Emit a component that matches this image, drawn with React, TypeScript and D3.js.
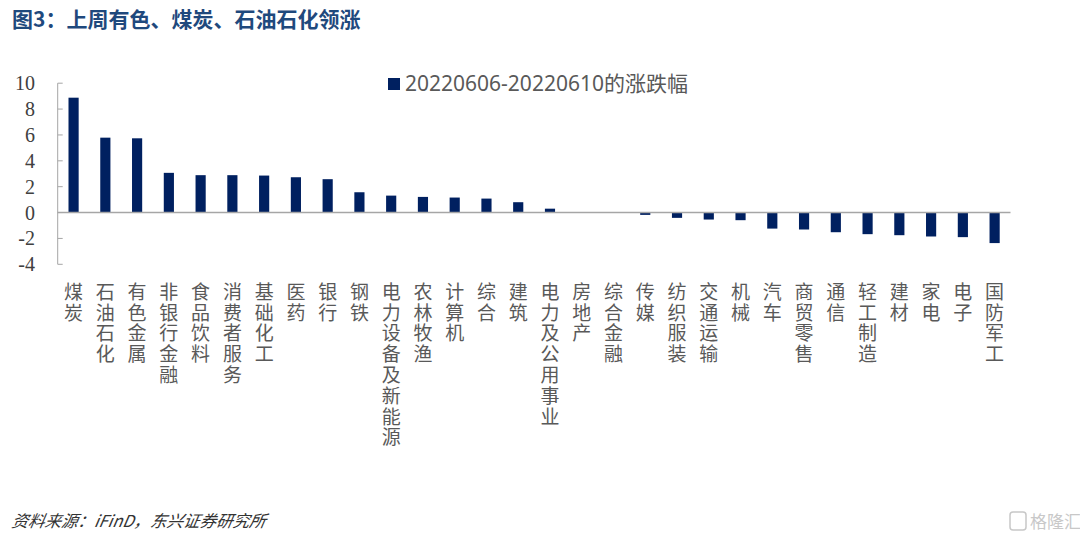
import React from "react";
import * as d3 from "d3";

const categories = [
  "煤炭", "石油石化", "有色金属", "非银行金融", "食品饮料", "消费者服务", "基础化工", "医药",
  "银行", "钢铁", "电力设备及新能源", "农林牧渔", "计算机", "综合", "建筑", "电力及公用事业",
  "房地产", "综合金融", "传媒", "纺织服装", "交通运输", "机械", "汽车", "商贸零售",
  "通信", "轻工制造", "建材", "家电", "电子", "国防军工",
];
const values = [
  8.88, 5.79, 5.74, 3.07, 2.89, 2.89, 2.86, 2.73,
  2.58, 1.57, 1.31, 1.21, 1.16, 1.08, 0.8, 0.3,
  0.0, 0.0, -0.18, -0.41, -0.54, -0.59, -1.24, -1.31,
  -1.52, -1.67, -1.75, -1.85, -1.9, -2.36,
];
const yTicks = [-4, -2, 0, 2, 4, 6, 8, 10];
const seriesName = "20220606-20220610的涨跌幅";
const title = "图3：上周有色、煤炭、石油石化领涨";
const source = "资料来源：iFinD，东兴证券研究所";

const W = 1080;
const H = 542;
const plotLeft = 57.7;
const plotRight = 1010.5;
const yTop = 83.2;
const yBottom = 264.3;
const barColor = "#002060";
const axisColor = "#a6a6a6";
const textColor = "#595959";

export default function App() {
  const x = d3
    .scaleBand<string>()
    .domain(categories)
    .range([plotLeft, plotRight])
    .paddingInner(0.68)
    .paddingOuter(0.34);
  const y = d3.scaleLinear().domain([-4, 10]).range([yBottom, yTop]);
  const bw = x.bandwidth();

  return (
    <div style={{ position: "absolute", left: 0, top: 0 }}>
      <svg width={W} height={H} style={{ display: "block", background: "#fff" }}>
        <text
          x={12}
          y={27}
          fontFamily="'Noto Sans CJK SC', sans-serif"
          fontWeight="bold"
          fontSize={21}
          fill="#1F497D"
        >
          {title}
        </text>

        {/* y axis */}
        <line x1={plotLeft} x2={plotLeft} y1={y(10)} y2={y(-4)} stroke={axisColor} strokeWidth={1} />
        {yTicks.map((t) => (
          <g key={t}>
            <line x1={plotLeft} x2={plotLeft + 5} y1={y(t)} y2={y(t)} stroke={axisColor} strokeWidth={1} />
            <text
              x={35}
              y={y(t)}
              dy="0.35em"
              textAnchor="end"
              fontFamily="'Liberation Serif', serif"
              fontSize={20}
              fill="#404040"
            >
              {t}
            </text>
          </g>
        ))}

        {/* bars */}
        {categories.map((c, i) => {
          const v = values[i];
          const y0 = y(0);
          const yv = y(v);
          return (
            <rect
              key={c}
              x={x(c)!}
              y={Math.min(y0, yv)}
              width={bw}
              height={Math.abs(yv - y0)}
              fill={barColor}
            />
          );
        })}

        {/* zero line */}
        <line x1={plotLeft} x2={plotRight} y1={y(0)} y2={y(0)} stroke={axisColor} strokeWidth={1.5} />

        {/* vertical category labels */}
        {categories.map((c) => {
          const cx = x(c)! + bw / 2;
          return (
            <text
              key={c}
              x={cx}
              y={282}
              fontFamily="'Noto Sans CJK SC', sans-serif"
              fontSize={19}
              fill={textColor}
              style={{ writingMode: "vertical-rl", textOrientation: "upright", letterSpacing: "1.8px" } as any}
            >
              {c}
            </text>
          );
        })}

        {/* legend */}
        <rect x={388} y={78} width={12} height={12} fill={barColor} />
        <text
          x={405}
          y={91}
          fontFamily="'Noto Sans', 'Noto Sans CJK SC', sans-serif"
          fontSize={21}
          fill={textColor}
        >
          {seriesName}
        </text>

        {/* source */}
        <text
          x={12}
          y={527}
          fontFamily="'Noto Sans CJK SC', sans-serif"
          fontStyle="italic"
          fontSize={16.5}
          fill="#333"
          transform="skewX(-10) translate(92,0)"
        >
          {source}
        </text>

        {/* watermark */}
        <rect x={1010} y={512} width={16} height={18} rx={3} fill="none" stroke="#c8c8c8" strokeWidth={1.5} />
        <text x={1030} y={528} fontFamily="'Noto Sans CJK SC', sans-serif" fontSize={17} fill="#c8c8c8">
          格隆汇
        </text>
      </svg>
    </div>
  );
}
